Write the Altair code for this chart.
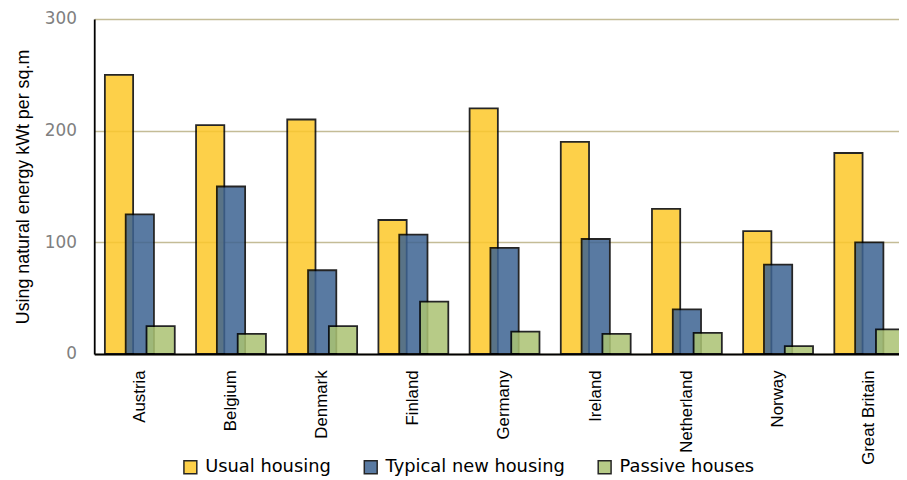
import altair as alt
import pandas as pd

countries = ["Austria", "Belgium", "Denmark", "Finland", "Germany",
             "Ireland", "Netherland", "Norway", "Great Britain"]
series = ["Usual housing", "Typical new housing", "Passive houses"]
usual = [250, 205, 210, 120, 220, 190, 130, 110, 180]
typical = [125, 150, 75, 107, 95, 103, 40, 80, 100]
passive = [25, 18, 25, 47, 20, 18, 19, 7, 22]
colors = ["#FDC82A", "#3D6392", "#ABC373"]
y_ticks = [0, 100, 200, 300]

rows = []
for i, c in enumerate(countries):
    for s, vals in zip(series, [usual, typical, passive]):
        rows.append({"country": c, "series": s, "value": vals[i]})
df = pd.DataFrame(rows)

chart = alt.Chart(df).mark_bar(
    width=28.5, stroke="black", strokeWidth=1.8, opacity=0.85
).encode(
    x=alt.X("country:N", sort=countries,
            scale=alt.Scale(range=[0, 828], paddingInner=0, paddingOuter=0),
            axis=alt.Axis(title=None, labelAngle=-90, labelPadding=16,
                          labelFont="Liberation Sans Narrow, Liberation Sans",
                          labelFontSize=17, labelColor="black",
                          ticks=False, domainColor="black", domainWidth=1.8)),
    xOffset=alt.XOffset("series:N", sort=series,
                        scale=alt.Scale(domain=series, paddingOuter=0.69, paddingInner=0)),
    y=alt.Y("value:Q", scale=alt.Scale(domain=[0, 300]),
            axis=alt.Axis(values=y_ticks, title="Using natural energy kWt per sq.m",
                          titleFont="Liberation Sans", titleFontSize=18,
                          titleFontWeight="normal", titleColor="black",
                          titlePadding=12,
                          labelFont="DejaVu Sans", labelFontSize=17,
                          labelColor="#808080", labelPadding=18,
                          ticks=False, domainColor="black", domainWidth=1.8,
                          gridColor="#C4BC96", gridWidth=1.5)),
    color=alt.Color("series:N", sort=series,
                    scale=alt.Scale(domain=series, range=colors),
                    legend=alt.Legend(title=None, orient="none", direction="horizontal",
                                      legendX=88, legendY=443,
                                      symbolType="square", symbolSize=169,
                                      symbolStrokeColor="black", symbolStrokeWidth=1.5,
                                      labelFont="DejaVu Sans", labelFontSize=18,
                                      labelColor="black", columnPadding=30,
                                      labelOffset=6, labelLimit=400))
).properties(
    width=812, height=338,
    autosize=alt.AutoSizeParams(type="none"),
    padding={"left": 87, "top": 9, "right": 0, "bottom": 123}
).configure_view(stroke=None)

chart.save("out.html", embed_options={"renderer": "svg", "actions": False})
